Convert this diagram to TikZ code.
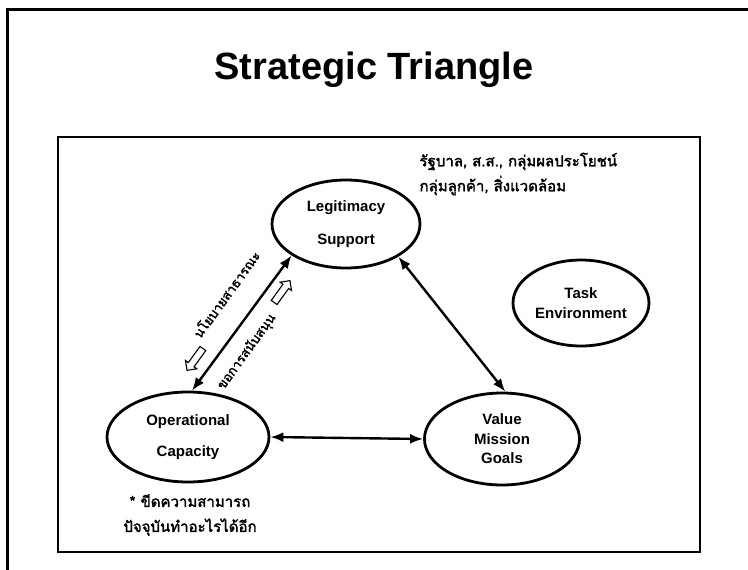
\documentclass[tikz,border=0pt]{standalone}
\usepackage{fontspec}
\setmainfont{Liberation Sans}
\newfontfamily\thaifont[Script=Thai,FakeBold=2.2]{Loma}
\usetikzlibrary{shapes.geometric,shapes.arrows,arrows.meta}
\begin{document}
\begin{tikzpicture}[x=1pt,y=-1pt,
  oval/.style={draw,line width=2.8pt,ellipse,inner sep=0pt,align=center,font=\bfseries\fontsize{15}{19.5}\selectfont},
  link/.style={line width=2.4pt,{Latex[length=13pt,width=10pt]}-{Latex[length=13pt,width=10pt]}},
  hollow/.style={draw,line width=1.1pt,fill=white,single arrow,inner sep=3pt,single arrow head extend=3.5pt,minimum height=27pt},
  thai/.style={font=\thaifont\fontsize{15}{25}\selectfont},
  thaislant/.style={font=\thaifont\fontsize{13}{16}\selectfont,inner sep=1pt}
]
\useasboundingbox (0,0) rectangle (748,570);
\draw[line width=3pt] (7,575) -- (7,9) -- (755,9);
\draw[line width=2pt] (58,137) rectangle (700,552);
\node[font=\bfseries\fontsize{38}{44}\selectfont] (title) at (374,70) {Strategic Triangle};

\node[oval,minimum width=148pt,minimum height=88pt] (leg) at (346,224) {Legitimacy\\[13pt]Support};
\node[oval,minimum width=162pt,minimum height=90pt] (op) at (188,437) {Operational\\[11pt]Capacity};
\node[oval,minimum width=155pt,minimum height=92pt] (val) at (502,439) {Value\\Mission\\Goals};
\node[oval,minimum width=136pt,minimum height=86pt] (task) at (581,303) {Task\\Environment};

\draw[link] (leg.210) -- (op.85);
\draw[link] (leg.-32) -- (val.86);
\draw[link] (op.east) -- (val.west);

\node[hollow,rotate=234] (ha1) at (196,358) {};
\node[hollow,rotate=54] (ha2) at (281,293) {};
\node[thaislant,rotate=54] (pol) at (226,294) {นโยบายสาธารณะ};
\node[thaislant,rotate=54] (sup) at (247,352) {ขอการสนับสนุน};

\node[thai,align=left,anchor=west] (stake) at (416,174) {รัฐบาล, ส.ส., กลุ่มผลประโยชน์\\กลุ่มลูกค้า, สิ่งแวดล้อม};
\node[thai,align=center] (cap) at (190,515) {* ขีดความสามารถ\\ปัจจุบันทำอะไรได้อีก};
\end{tikzpicture}
\end{document}
